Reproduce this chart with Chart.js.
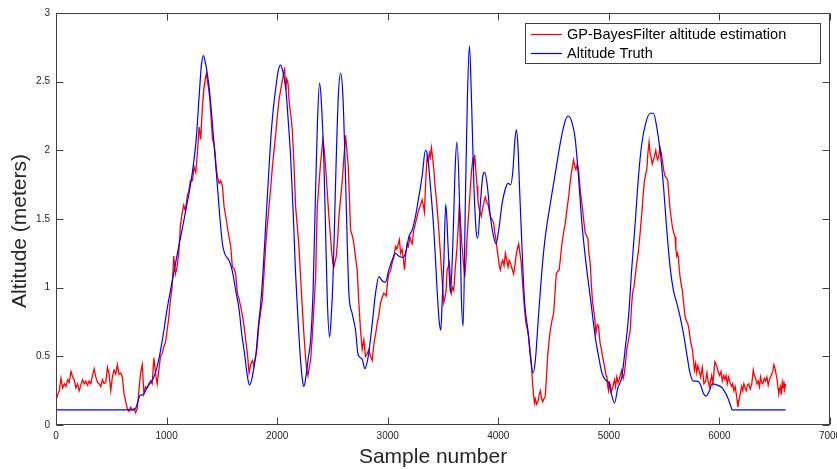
<!DOCTYPE html>
<html><head><meta charset="utf-8">
<script src="https://cdn.jsdelivr.net/npm/chart.js@4.4.0/dist/chart.umd.min.js"></script>
<style>html,body{margin:0;padding:0;background:#fff;}#wrap{width:837px;height:469px;}</style>
</head><body><div id="wrap"><canvas id="c" width="837" height="469"></canvas></div>
<script>
const seriesNames = ['GP-BayesFilter altitude estimation', 'Altitude Truth'];
const seriesColors = ['#ff0000', '#0000ff'];
const xTitle = 'Sample number';
const yTitle = 'Altitude (meters)';
const xTickValues = [0, 1000, 2000, 3000, 4000, 5000, 6000, 7000];
const xTickLabels = ['0', '1000', '2000', '3000', '4000', '5000', '6000', '7000'];
const yTickValues = [0, 0.5, 1, 1.5, 2, 2.5, 3];
const yTickLabels = ['0', '0.5', '1', '1.5', '2', '2.5', '3'];

// [sample number, altitude]
const estimate = [
[0,0.18],[15,0.22],[30,0.25],[45,0.34],[60,0.27],[75,0.30],[90,0.28],[105,0.33],[120,0.31],[135,0.39],
[150,0.35],[165,0.33],[180,0.27],[195,0.30],[210,0.25],[225,0.29],[240,0.33],[255,0.30],[270,0.32],[285,0.29],
[300,0.32],[315,0.30],[330,0.36],[345,0.41],[360,0.35],[375,0.31],[390,0.30],[405,0.28],[420,0.33],[435,0.30],
[450,0.31],[465,0.42],[480,0.37],[495,0.25],[510,0.35],[525,0.40],[540,0.37],[555,0.44],[570,0.37],[585,0.38],
[600,0.35],[615,0.23],[630,0.17],[645,0.12],[660,0.10],[675,0.13],[690,0.11],[705,0.12],[720,0.09],[735,0.12],
[750,0.25],[765,0.38],[780,0.44],[795,0.23],[810,0.28],[825,0.27],[840,0.30],[855,0.32],[870,0.30],[885,0.49],
[900,0.38],[915,0.30],[930,0.40],[945,0.50],[960,0.52],[975,0.57],[990,0.60],[1005,0.69],[1020,0.78],[1035,0.91],
[1050,1.00],[1065,1.23],[1080,1.10],[1095,1.15],[1110,1.25],[1125,1.45],[1140,1.54],[1155,1.60],[1170,1.56],[1185,1.66],
[1200,1.70],[1215,1.78],[1234,1.78],[1249,1.88],[1264,1.84],[1279,1.98],[1294,2.17],[1309,2.08],[1324,2.32],[1339,2.46],
[1350,2.52],[1360,2.56],[1370,2.50],[1379,2.46],[1390,2.38],[1400,2.27],[1415,2.08],[1428,2.05],[1439,1.98],[1450,1.86],
[1460,1.81],[1475,1.76],[1490,1.78],[1505,1.74],[1520,1.59],[1535,1.52],[1550,1.44],[1565,1.37],[1580,1.30],[1595,1.15],
[1610,1.14],[1625,1.10],[1640,0.96],[1655,0.92],[1671,0.86],[1686,0.80],[1701,0.72],[1716,0.62],[1731,0.52],[1746,0.38],
[1761,0.44],[1776,0.47],[1791,0.43],[1800,0.48],[1812,0.52],[1824,0.62],[1836,0.74],[1851,0.82],[1866,0.91],[1881,1.10],
[1896,1.30],[1911,1.45],[1926,1.59],[1941,1.72],[1957,1.88],[1972,2.00],[1987,2.12],[2002,2.25],[2017,2.37],[2032,2.44],
[2047,2.51],[2058,2.56],[2068,2.59],[2077,2.44],[2087,2.52],[2098,2.49],[2105,2.40],[2113,2.32],[2125,2.25],[2137,2.15],
[2152,1.90],[2167,1.59],[2182,1.45],[2197,1.30],[2212,1.08],[2227,0.86],[2242,0.66],[2257,0.49],[2268,0.40],[2279,0.36],
[2290,0.42],[2303,0.47],[2318,0.65],[2333,0.86],[2348,1.08],[2363,1.59],[2378,1.75],[2393,1.91],[2404,2.00],[2414,2.08],
[2426,2.00],[2438,1.89],[2453,1.70],[2468,1.52],[2480,1.40],[2492,1.27],[2503,1.18],[2513,1.15],[2524,1.19],[2535,1.23],
[2547,1.35],[2559,1.52],[2574,1.65],[2589,1.78],[2604,1.95],[2619,2.11],[2631,2.00],[2643,1.89],[2654,1.65],[2664,1.42],
[2679,1.38],[2694,1.32],[2709,1.22],[2724,1.13],[2739,0.89],[2754,0.69],[2769,0.55],[2784,0.62],[2799,0.50],[2815,0.52],
[2830,0.55],[2845,0.50],[2860,0.47],[2875,0.59],[2890,0.66],[2905,0.74],[2920,0.80],[2935,0.89],[2950,0.93],[2965,0.96],
[2986,0.94],[3000,1.05],[3010,1.10],[3025,1.12],[3040,1.18],[3055,1.22],[3070,1.30],[3083,1.28],[3095,1.32],[3106,1.35],
[3116,1.25],[3130,1.28],[3140,1.22],[3152,1.13],[3164,1.25],[3176,1.32],[3188,1.30],[3200,1.37],[3210,1.34],[3221,1.32],
[3236,1.42],[3251,1.47],[3266,1.52],[3281,1.57],[3296,1.60],[3311,1.64],[3322,1.60],[3332,1.55],[3345,1.80],[3356,1.95],
[3367,1.92],[3377,1.98],[3386,1.95],[3395,2.02],[3406,1.95],[3417,1.86],[3428,1.74],[3438,1.66],[3450,1.55],[3462,1.42],
[3474,1.28],[3486,1.13],[3497,1.00],[3507,0.89],[3518,0.93],[3528,0.98],[3537,1.13],[3546,1.15],[3558,1.18],[3567,1.05],
[3576,0.96],[3587,1.00],[3597,0.98],[3612,1.15],[3627,1.30],[3638,1.45],[3648,1.61],[3660,1.45],[3672,1.30],[3685,1.18],
[3697,1.08],[3708,1.20],[3718,1.37],[3733,1.55],[3748,1.74],[3758,1.85],[3769,1.93],[3778,1.90],[3787,1.97],[3797,1.85],
[3808,1.74],[3815,1.65],[3823,1.59],[3835,1.55],[3847,1.52],[3858,1.58],[3868,1.61],[3875,1.64],[3883,1.66],[3895,1.62],
[3907,1.61],[3918,1.56],[3928,1.52],[3943,1.50],[3958,1.47],[3968,1.40],[3979,1.35],[3989,1.28],[3998,1.23],[4008,1.16],
[4019,1.13],[4030,1.18],[4040,1.20],[4052,1.16],[4064,1.25],[4076,1.20],[4088,1.15],[4098,1.20],[4109,1.18],[4124,1.14],
[4139,1.10],[4150,1.16],[4160,1.23],[4172,1.28],[4184,1.32],[4196,1.25],[4208,1.18],[4218,1.05],[4229,0.93],[4240,0.82],
[4250,0.74],[4262,0.70],[4275,0.64],[4287,0.55],[4299,0.45],[4310,0.30],[4320,0.21],[4328,0.16],[4335,0.19],[4347,0.15],
[4359,0.17],[4370,0.22],[4380,0.25],[4390,0.20],[4401,0.17],[4413,0.19],[4425,0.21],[4436,0.35],[4446,0.50],[4458,0.60],
[4470,0.69],[4485,0.76],[4500,0.81],[4512,0.95],[4524,1.10],[4538,1.12],[4551,1.13],[4563,1.22],[4575,1.32],[4590,1.40],
[4606,1.47],[4621,1.57],[4636,1.66],[4648,1.75],[4660,1.83],[4670,1.88],[4681,1.93],[4692,1.88],[4702,1.86],[4714,1.90],
[4726,1.86],[4741,1.71],[4752,1.64],[4762,1.57],[4774,1.48],[4786,1.40],[4798,1.38],[4810,1.36],[4820,1.25],[4831,1.18],
[4842,1.02],[4853,0.89],[4862,0.84],[4871,0.79],[4883,0.67],[4895,0.73],[4907,0.72],[4915,0.64],[4922,0.59],[4933,0.55],
[4943,0.50],[4955,0.45],[4967,0.40],[4975,0.36],[4982,0.35],[4990,0.28],[4997,0.25],[5005,0.31],[5012,0.30],[5022,0.24],
[5033,0.27],[5042,0.30],[5051,0.33],[5060,0.28],[5072,0.35],[5082,0.31],[5093,0.33],[5105,0.37],[5117,0.40],[5130,0.34],
[5141,0.38],[5150,0.45],[5162,0.55],[5178,0.62],[5193,0.69],[5204,0.85],[5214,0.96],[5226,1.00],[5238,1.08],[5253,1.18],
[5268,1.27],[5283,1.40],[5298,1.54],[5308,1.65],[5319,1.76],[5331,1.82],[5343,1.86],[5353,1.98],[5364,2.06],[5373,1.98],
[5382,1.95],[5392,1.90],[5403,1.93],[5413,1.96],[5424,2.00],[5434,1.95],[5443,1.93],[5453,1.97],[5463,2.02],[5474,1.98],
[5485,1.92],[5497,1.85],[5509,1.81],[5521,1.80],[5533,1.78],[5544,1.66],[5554,1.57],[5565,1.50],[5575,1.44],[5587,1.40],
[5599,1.37],[5606,1.28],[5614,1.23],[5621,1.25],[5629,1.22],[5636,1.14],[5644,1.08],[5655,1.02],[5665,0.98],[5677,0.88],
[5689,0.79],[5701,0.76],[5713,0.74],[5724,0.70],[5734,0.64],[5745,0.58],[5756,0.55],[5765,0.48],[5774,0.40],[5785,0.45],
[5795,0.38],[5805,0.43],[5815,0.40],[5830,0.35],[5845,0.42],[5860,0.30],[5875,0.32],[5887,0.38],[5899,0.31],[5910,0.28],
[5920,0.32],[5930,0.36],[5941,0.30],[5950,0.38],[5959,0.46],[5970,0.44],[5980,0.42],[5990,0.38],[6001,0.36],[6014,0.39],
[6026,0.32],[6038,0.36],[6050,0.33],[6060,0.36],[6071,0.30],[6082,0.35],[6092,0.32],[6101,0.30],[6110,0.28],[6120,0.30],
[6131,0.25],[6142,0.28],[6152,0.23],[6160,0.18],[6167,0.13],[6175,0.17],[6182,0.20],[6191,0.24],[6200,0.28],[6210,0.25],
[6221,0.30],[6232,0.27],[6242,0.25],[6254,0.29],[6266,0.30],[6278,0.26],[6291,0.29],[6298,0.34],[6306,0.40],[6316,0.36],
[6327,0.34],[6340,0.30],[6351,0.32],[6362,0.28],[6372,0.35],[6382,0.31],[6393,0.30],[6405,0.34],[6417,0.32],[6429,0.35],
[6441,0.29],[6452,0.33],[6462,0.35],[6472,0.37],[6483,0.39],[6492,0.44],[6501,0.42],[6512,0.37],[6522,0.33],[6530,0.27],
[6537,0.23],[6545,0.26],[6552,0.28],[6560,0.22],[6568,0.31],[6575,0.27],[6583,0.32],[6590,0.26],[6598,0.30]
];

// [sample number, altitude]
const truth = [
[0,0.11],[700,0.11],[720,0.12],[740,0.17],[755,0.21],[770,0.22],[790,0.22],[810,0.25],[830,0.28],[855,0.31],
[885,0.35],[910,0.41],[940,0.52],[970,0.66],[1000,0.82],[1040,1.00],[1075,1.15],[1110,1.30],[1140,1.42],[1175,1.57],
[1210,1.72],[1240,1.88],[1270,2.10],[1295,2.40],[1315,2.62],[1333,2.69],[1350,2.64],[1370,2.55],[1390,2.42],[1420,2.14],
[1451,1.83],[1480,1.53],[1505,1.32],[1525,1.25],[1545,1.22],[1565,1.20],[1595,1.12],[1625,0.98],[1656,0.84],[1680,0.66],
[1705,0.52],[1730,0.36],[1750,0.29],[1770,0.33],[1790,0.42],[1810,0.53],[1830,0.72],[1851,0.88],[1875,1.15],[1896,1.45],
[1920,1.78],[1942,2.08],[1965,2.30],[1987,2.45],[2010,2.58],[2030,2.62],[2050,2.58],[2077,2.46],[2100,2.22],[2122,1.95],
[2145,1.55],[2167,1.10],[2190,0.75],[2212,0.47],[2230,0.32],[2243,0.28],[2260,0.35],[2280,0.48],[2303,0.62],[2325,0.98],
[2348,1.72],[2365,2.22],[2384,2.49],[2400,2.35],[2423,1.91],[2440,1.35],[2453,0.93],[2474,0.64],[2490,0.80],[2505,1.06],
[2520,1.50],[2529,1.78],[2553,2.39],[2574,2.56],[2595,2.39],[2619,1.78],[2635,1.30],[2649,0.96],[2679,0.81],[2709,0.69],
[2733,0.51],[2769,0.48],[2793,0.41],[2824,0.50],[2860,0.74],[2890,0.96],[2920,1.08],[2950,1.05],[2980,1.04],[3010,1.13],
[3040,1.20],[3070,1.25],[3100,1.23],[3131,1.22],[3161,1.25],[3191,1.37],[3221,1.42],[3251,1.52],[3281,1.66],[3311,1.81],
[3341,2.00],[3362,1.95],[3386,1.74],[3417,1.42],[3447,0.98],[3465,0.76],[3480,0.69],[3495,0.95],[3507,1.18],[3525,1.61],
[3546,1.30],[3567,0.96],[3588,1.30],[3612,1.91],[3627,2.06],[3648,1.66],[3666,0.93],[3682,0.72],[3703,1.66],[3721,2.39],
[3739,2.76],[3757,2.39],[3778,1.78],[3799,1.42],[3814,1.36],[3838,1.61],[3859,1.81],[3877,1.84],[3898,1.76],[3928,1.52],
[3958,1.37],[3979,1.32],[4004,1.42],[4034,1.61],[4064,1.72],[4088,1.76],[4112,1.75],[4133,1.86],[4148,2.05],[4163,2.15],
[4178,2.03],[4193,1.71],[4214,1.30],[4238,0.89],[4268,0.69],[4290,0.50],[4314,0.38],[4335,0.47],[4365,0.81],[4395,1.13],
[4425,1.37],[4470,1.61],[4515,1.83],[4560,2.05],[4600,2.20],[4630,2.25],[4660,2.22],[4696,2.08],[4726,1.80],[4756,1.47],
[4786,1.23],[4816,1.03],[4846,0.84],[4877,0.64],[4907,0.50],[4937,0.38],[4967,0.33],[4997,0.31],[5021,0.23],[5051,0.16],
[5081,0.27],[5117,0.35],[5147,0.55],[5178,0.79],[5208,1.15],[5238,1.47],[5268,1.81],[5298,2.05],[5334,2.20],[5373,2.27],
[5403,2.27],[5433,2.17],[5463,2.00],[5494,1.74],[5524,1.42],[5554,1.15],[5584,0.98],[5614,0.89],[5644,0.79],[5674,0.67],
[5704,0.52],[5734,0.38],[5765,0.32],[5795,0.32],[5825,0.30],[5855,0.23],[5879,0.21],[5905,0.24],[5935,0.30],[5981,0.29],
[6026,0.27],[6056,0.23],[6080,0.19],[6101,0.14],[6116,0.11],[6598,0.11]
];

const FONT = '"Liberation Sans", Arial, Helvetica, sans-serif';
const TXT = '#262626';
const AXIS = '#404040';

const frame = {
  id: 'frame',
  afterDatasetsDraw(chart) {
    const {ctx, chartArea: a, scales: {x, y}} = chart;
    ctx.save();
    ctx.strokeStyle = AXIS;
    ctx.lineWidth = 1;
    const L = Math.round(a.left) + 0.5, R = Math.round(a.right) - 0.5;
    const T = Math.round(a.top) + 0.5, B = Math.round(a.bottom) - 0.5;
    ctx.beginPath();
    xTickValues.forEach(v => {
      const px = Math.round(x.getPixelForValue(v)) + 0.5;
      ctx.moveTo(px, B); ctx.lineTo(px, B - 7);
      ctx.moveTo(px, T); ctx.lineTo(px, T + 7);
    });
    yTickValues.forEach(v => {
      const py = Math.round(y.getPixelForValue(v)) + 0.5;
      ctx.moveTo(L, py); ctx.lineTo(L + 7, py);
      ctx.moveTo(R, py); ctx.lineTo(R - 7, py);
    });
    ctx.stroke();
    ctx.strokeRect(L, T, R - L, B - T);

    // axis titles
    ctx.fillStyle = TXT;
    ctx.font = '21px ' + FONT;
    ctx.textAlign = 'center';
    ctx.textBaseline = 'middle';
    ctx.fillText(xTitle, 433, 457);
    ctx.save();
    ctx.translate(20, 231);
    ctx.rotate(-Math.PI / 2);
    ctx.fillText(yTitle, 0, 0);
    ctx.restore();

    // legend box
    const lx = 525.5, ly = 23.5, lw = 295, lh = 40;
    ctx.fillStyle = '#ffffff';
    ctx.fillRect(lx, ly, lw, lh);
    ctx.strokeStyle = AXIS;
    ctx.lineWidth = 1;
    ctx.strokeRect(lx, ly, lw, lh);
    ctx.font = '14.5px ' + FONT;
    ctx.textBaseline = 'middle';
    ctx.textAlign = 'left';
    chart.data.datasets.forEach((ds, i) => {
      const yy = 34 + i * 19 + 0.5;
      ctx.strokeStyle = ds.borderColor;
      ctx.lineWidth = 1.2;
      ctx.beginPath();
      ctx.moveTo(531, yy); ctx.lineTo(562, yy);
      ctx.stroke();
      ctx.fillStyle = '#000000';
      ctx.fillText(ds.label, 567, yy + 0.5);
    });
    ctx.restore();
  }
};

new Chart(document.getElementById('c'), {
  type: 'line',
  data: {
    datasets: [
      {
        label: seriesNames[0],
        data: estimate.map(p => ({x: p[0], y: p[1]})),
        borderColor: seriesColors[0],
        borderWidth: 1.3,
        pointRadius: 0,
        tension: 0,
        fill: false,
        order: 1
      },
      {
        label: seriesNames[1],
        data: truth.map(p => ({x: p[0], y: p[1]})),
        borderColor: seriesColors[1],
        borderWidth: 1.2,
        pointRadius: 0,
        cubicInterpolationMode: 'monotone',
        fill: false,
        order: 0
      }
    ]
  },
  options: {
    responsive: false,
    animation: false,
    devicePixelRatio: 1,
    layout: {padding: {left: 0, right: 7, top: 13, bottom: 0}},
    plugins: {legend: {display: false}, tooltip: {enabled: false}},
    scales: {
      x: {
        type: 'linear', min: 0, max: 7000,
        afterBuildTicks: s => { s.ticks = xTickValues.map(v => ({value: v})); },
        afterFit: s => { s.height = 44; s.paddingLeft = 0; s.paddingRight = 0; },
        grid: {display: false, drawTicks: false},
        border: {display: false},
        ticks: {
          callback: v => xTickLabels[xTickValues.indexOf(v)],
          font: {family: FONT, size: 10}, color: TXT, padding: 5,
          maxRotation: 0, autoSkip: false
        },
        title: {display: false}
      },
      y: {
        type: 'linear', min: 0, max: 3,
        afterBuildTicks: s => { s.ticks = yTickValues.map(v => ({value: v})); },
        afterFit: s => { s.width = 56; s.paddingTop = 0; s.paddingBottom = 0; },
        grid: {display: false, drawTicks: false},
        border: {display: false},
        ticks: {
          callback: v => yTickLabels[yTickValues.indexOf(v)],
          font: {family: FONT, size: 10}, color: TXT, padding: 6, autoSkip: false
        },
        title: {display: false}
      }
    }
  },
  plugins: [frame]
});
</script>
</body></html>
